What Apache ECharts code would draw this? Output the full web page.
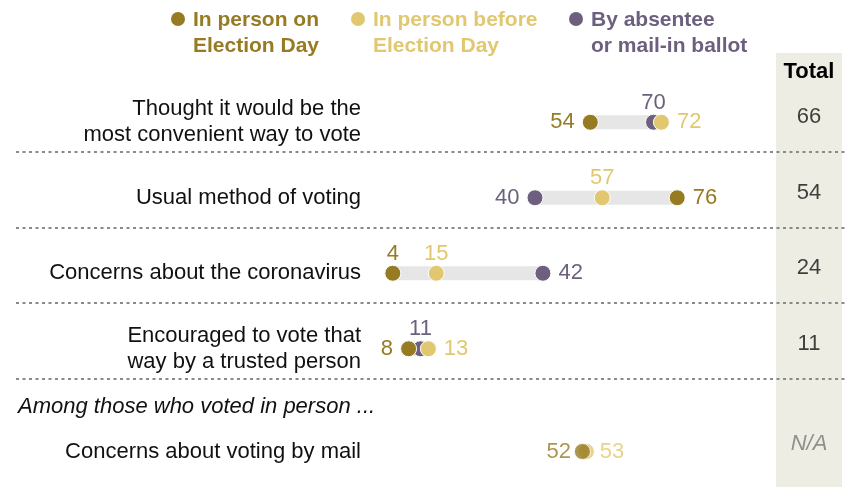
<!DOCTYPE html>
<html><head><meta charset="utf-8">
<script src="https://cdn.jsdelivr.net/npm/echarts@6/dist/echarts.min.js"></script>
<style>html,body{margin:0;padding:0;background:#fff}#c{width:845px;height:487px}</style>
</head><body><div id="c"></div>
<script>
// ---- data ----
const categories = ['Thought it would be the\nmost convenient way to vote', 'Usual method of voting', 'Concerns about the coronavirus', 'Encouraged to vote that\nway by a trusted person'];
const inPersonElectionDay = [54, 76, 4, 8];
const inPersonBefore = [72, 57, 15, 13];
const absenteeMail = [70, 40, 42, 11];
const totals = [66, 54, 24, 11];
const subHeader = 'Among those who voted in person ...';
const subCategories = ['Concerns about voting by mail'];
const subElectionDay = [52];
const subBefore = [53];
const subTotals = ['N/A'];
const seriesNames = ['In person on\nElection Day', 'In person before\nElection Day', 'By absentee\nor mail-in ballot'];
const totalHeader = ['Total'];

// ---- style ----
const C_ED = '#977B22', C_BEF = '#E1C870', C_MAIL = '#6D607F', C_BAR = '#E6E6E6', C_BG = '#EEEDE3';
const FONT = '"Liberation Sans", Arial, sans-serif';
const posED = ['left', 'right', 'top', 'left'];
const posBEF = ['right', 'top', 'top', 'right'];
const posMAIL = ['top', 'left', 'right', 'top'];
const DOT = 16;

const chart = echarts.init(document.getElementById('c'), null, {renderer: 'canvas'});

function lbl(pos, color) {
  return {show: true, position: pos, distance: pos === 'top' ? 0 : 7, color: color, fontSize: 22, fontFamily: FONT,
    formatter: p => p.value[0]};
}
function dots(name, vals, pos, color, xi, yi, z) {
  return {
    type: 'scatter', name: name, xAxisIndex: xi, yAxisIndex: yi, symbol: 'circle', symbolSize: DOT, z: z,
    itemStyle: {color: color, borderColor: '#fff', borderWidth: 1, opacity: 1},
    data: vals.map((v, i) => ({value: [v, i], label: lbl(pos[i], color)})),
    emphasis: {disabled: true}, silent: true
  };
}
function bars(rows, xi, yi) {
  return {
    type: 'custom', xAxisIndex: xi, yAxisIndex: yi, z: 1, silent: true,
    data: rows,
    renderItem: (params, api) => {
      const s = api.coord([api.value(0), api.value(2)]);
      const e = api.coord([api.value(1), api.value(2)]);
      return {type: 'rect', shape: {x: s[0], y: s[1] - 7, width: e[0] - s[0], height: 14}, style: {fill: C_BAR}};
    }
  };
}
const mainRows = categories.map((c, i) => {
  const v = [inPersonElectionDay[i], inPersonBefore[i], absenteeMail[i]];
  return [Math.min(...v), Math.max(...v), i];
});
const subRows = subCategories.map((c, i) => {
  const v = [subElectionDay[i], subBefore[i]];
  return [Math.min(...v), Math.max(...v), i];
});

const grids = [
  {left: 377, right: 73, top: 84.5, height: 302},
  {left: 377, right: 73, top: 416, height: 74},
  {left: 776, right: 3, top: 84.5, height: 302},
  {left: 776, right: 3, top: 416, height: 74}
];
const valX = g => ({type: 'value', gridIndex: g, min: 0, max: 100, show: false});
const catY = (g, data, showLabel) => ({
  type: 'category', gridIndex: g, data: data, inverse: true,
  axisLine: {show: false}, axisTick: {show: false}, splitLine: {show: false},
  axisLabel: {show: showLabel, margin: 16, color: '#111', fontSize: 22, fontFamily: FONT, lineHeight: 26,
    align: 'right', padding: [0, 0, 14, 0]}
});

// legend via graphic
const legendX = [178, 358, 576];
const legendColors = [C_ED, C_BEF, C_MAIL];
const graphics = [
  {type: 'rect', shape: {x: 776, y: 53, width: 66, height: 434}, style: {fill: C_BG}, z: -10, silent: true}
];
seriesNames.forEach((n, i) => {
  graphics.push({type: 'circle', shape: {cx: legendX[i], cy: 19, r: 7}, style: {fill: legendColors[i]}});
  graphics.push({type: 'text', x: legendX[i] + 15, y: 7, style: {text: n, fill: legendColors[i], font: 'bold 21px ' + FONT, lineHeight: 26}});
});
[152, 228, 303, 379].forEach(y => {
  graphics.push({type: 'line', shape: {x1: 16, y1: y, x2: 845, y2: y}, style: {stroke: '#8a8a8a', lineWidth: 2, lineDash: [3, 3.5]}, silent: true});
});
graphics.push({type: 'text', x: 18, y: 396, style: {text: subHeader, fill: '#111', font: 'italic 22px ' + FONT}});

chart.setOption({
  animation: false,
  backgroundColor: '#fff',
  grid: grids,
  xAxis: [valX(0), valX(1),
    {type: 'category', gridIndex: 2, data: totalHeader, position: 'top', axisLine: {show: false}, axisTick: {show: false},
      axisLabel: {margin: 2, color: '#000', fontSize: 22, fontWeight: 'bold', fontFamily: FONT}},
    {type: 'category', gridIndex: 3, data: totalHeader, show: false}],
  yAxis: [catY(0, categories, true), catY(1, subCategories, true), catY(2, categories, false), catY(3, subCategories, false)],
  graphic: graphics,
  series: [
    bars(mainRows, 0, 0),
    bars(subRows, 1, 1),
    dots(seriesNames[2], absenteeMail, posMAIL, C_MAIL, 0, 0, 3),
    dots(seriesNames[1], inPersonBefore, posBEF, C_BEF, 0, 0, 4),
    dots(seriesNames[0], inPersonElectionDay, posED, C_ED, 0, 0, 5),
    {
      type: 'scatter', xAxisIndex: 1, yAxisIndex: 1, symbolSize: DOT, z: 4, silent: true,
      itemStyle: {color: C_BEF, borderColor: '#fff', borderWidth: 1},
      data: subBefore.map((v, i) => [v, i]),
      label: {show: true, position: 'right', distance: 5, color: C_BEF, fontSize: 22, fontFamily: FONT, formatter: p => p.value[0]}
    },
    {
      type: 'scatter', xAxisIndex: 1, yAxisIndex: 1, symbolSize: DOT, z: 5, silent: true,
      itemStyle: {color: C_ED, borderColor: '#fff', borderWidth: 1},
      data: subElectionDay.map((v, i) => [v, i]),
      label: {show: true, position: 'left', distance: 3, color: C_ED, fontSize: 22, fontFamily: FONT, formatter: p => p.value[0]}
    },
    {
      type: 'scatter', xAxisIndex: 2, yAxisIndex: 2, symbolSize: 1, silent: true,
      itemStyle: {color: 'transparent'},
      data: totals.map((v, i) => ({value: [0, i, v]})),
      label: {show: true, position: 'inside', offset: [0, -5], color: '#111', fontSize: 22, fontFamily: FONT, formatter: p => p.value[2]}
    },
    {
      type: 'scatter', xAxisIndex: 3, yAxisIndex: 3, symbolSize: 1, silent: true,
      itemStyle: {color: 'transparent'},
      data: subTotals.map((v, i) => ({value: [0, i, v]})),
      label: {show: true, position: 'inside', offset: [0, -8], color: '#777', fontSize: 22, fontStyle: 'italic', fontFamily: FONT, formatter: p => p.value[2]}
    }
  ]
});
</script></body></html>
